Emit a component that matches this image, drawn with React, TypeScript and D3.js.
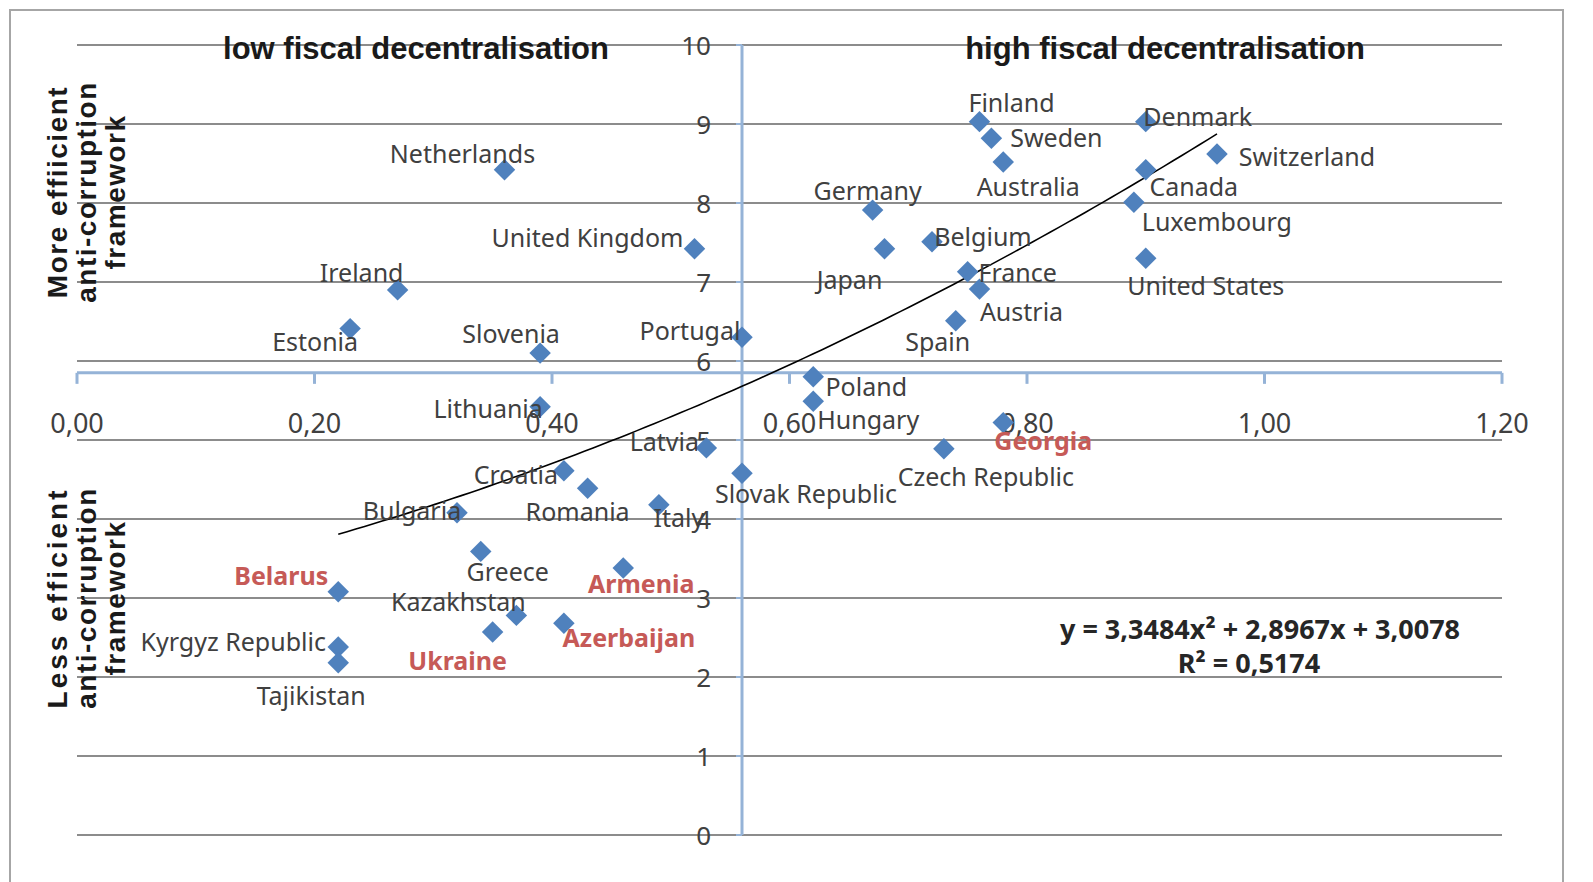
import React from "react";
import * as d3 from "d3";

// ---- data ----
const countries = [
  "Netherlands", "United Kingdom", "Ireland", "Estonia", "Slovenia", "Portugal",
  "Lithuania", "Latvia", "Croatia", "Romania", "Italy", "Slovak Republic",
  "Bulgaria", "Greece", "Armenia", "Belarus", "Kazakhstan", "Ukraine",
  "Azerbaijan", "Kyrgyz Republic", "Tajikistan", "Poland", "Hungary", "Georgia",
  "Czech Republic", "Germany", "Japan", "Belgium", "France", "Austria", "Spain",
  "Finland", "Sweden", "Australia", "Denmark", "Canada", "Switzerland",
  "Luxembourg", "United States",
];
const fiscalDecentralisation = [
  0.36, 0.52, 0.27, 0.23, 0.39, 0.56,
  0.39, 0.53, 0.41, 0.43, 0.49, 0.56,
  0.32, 0.34, 0.46, 0.22, 0.37, 0.35,
  0.41, 0.22, 0.22, 0.62, 0.62, 0.78,
  0.73, 0.67, 0.68, 0.72, 0.75, 0.76, 0.74,
  0.76, 0.77, 0.78, 0.90, 0.90, 0.96,
  0.89, 0.90,
];
const antiCorruption = [
  8.42, 7.42, 6.90, 6.41, 6.10, 6.30,
  5.42, 4.90, 4.61, 4.39, 4.18, 4.58,
  4.08, 3.59, 3.38, 3.08, 2.78, 2.57,
  2.68, 2.38, 2.18, 5.80, 5.49, 5.22,
  4.89, 7.91, 7.42, 7.51, 7.13, 6.91, 6.51,
  9.03, 8.82, 8.52, 9.03, 8.42, 8.62,
  8.01, 7.30,
];
const highlightedCountries = ["Belarus", "Armenia", "Ukraine", "Azerbaijan", "Georgia"];
const xTickValues = [0, 0.2, 0.4, 0.6, 0.8, 1.0, 1.2];
const yTickValues = [0, 1, 2, 3, 4, 5, 6, 7, 8, 9, 10];
const trendCoefficients = [3.3484, 2.8967, 3.0078]; // a x^2 + b x + c
const trendEquation = "y = 3,3484x² + 2,8967x + 3,0078";
const trendR2 = "R² = 0,5174";
const quadrantTitles = ["low fiscal decentralisation", "high fiscal decentralisation"];
const yTitleTop = ["More effiicient", "anti-corruption", "framework"];
const yTitleBottom = ["Less efficient", "anti-corruption", "framework"];

// label placement (offset of label centre from its marker, px)
const labelOffsets: Record<string, [number, number]> = {
  "Netherlands": [-42, -17], "United Kingdom": [-107, -12], "Ireland": [-36, -18],
  "Estonia": [-35, 12], "Slovenia": [-29, -20], "Portugal": [-52, -7],
  "Lithuania": [-52, 1], "Latvia": [-42, -7], "Croatia": [-48, 3],
  "Romania": [-10, 23], "Italy": [20, 12], "Slovak Republic": [64, 20],
  "Bulgaria": [-45, -3], "Greece": [27, 20], "Armenia": [18, 15],
  "Belarus": [-57, -17], "Kazakhstan": [-58, -14], "Ukraine": [-35, 28],
  "Azerbaijan": [65, 14], "Kyrgyz Republic": [-105, -6], "Tajikistan": [-27, 32],
  "Poland": [53, 9], "Hungary": [55, 18], "Georgia": [40, 17],
  "Czech Republic": [42, 27], "Germany": [-5, -20], "Japan": [-35, 30],
  "Belgium": [51, -6], "France": [50, 0], "Austria": [42, 22], "Spain": [-18, 20],
  "Finland": [32, -20], "Sweden": [65, -1], "Australia": [25, 24],
  "Denmark": [52, -6], "Canada": [48, 16], "Switzerland": [90, 2],
  "Luxembourg": [83, 19], "United States": [60, 27],
};

const xAxisCrossesAt = 5.85;
const yAxisCrossesAt = 0.56;

const fmt = (v: number) => v.toFixed(2).replace(".", ",");

export default function App() {
  const W = 1593, H = 882;
  const x = d3.scaleLinear().domain([0, 1.2]).range([77, 1502]);
  const y = d3.scaleLinear().domain([0, 10]).range([835, 45]);

  const points = countries.map((c, i) => ({ name: c, x: fiscalDecentralisation[i], y: antiCorruption[i] }));
  const [a, b, c] = trendCoefficients;
  const xMin = d3.min(fiscalDecentralisation)!, xMax = d3.max(fiscalDecentralisation)!;
  const trendPts = d3.range(0, 101).map((k) => {
    const xv = xMin + ((xMax - xMin) * k) / 100;
    return [xv, a * xv * xv + b * xv + c] as [number, number];
  });
  const line = d3.line<[number, number]>().x((d) => x(d[0])).y((d) => y(d[1]));
  const diamond = d3.symbol().type(d3.symbolSquare).size(230)()!;

  const axisY = y(xAxisCrossesAt);
  const axisX = x(yAxisCrossesAt);
  const labelFont = "'Noto Sans', 'DejaVu Sans', sans-serif";
  const titleFont = "'Liberation Sans', Arial, sans-serif";

  return (
    <svg width={W} height={H} style={{ position: "absolute", left: 0, top: 0, background: "#fff" }}>
      <rect x={10} y={10} width={1553} height={H} fill="#fff" stroke="#a6a6a6" strokeWidth={2} />

      {/* gridlines */}
      {yTickValues.map((t) => (
        <line key={"g" + t} x1={x(0)} x2={x(1.2)} y1={y(t)} y2={y(t)} stroke="#8c8c8c" strokeWidth={2} />
      ))}

      {/* x axis */}
      <line x1={x(0)} x2={x(1.2)} y1={axisY} y2={axisY} stroke="#95b3d7" strokeWidth={3} />
      {xTickValues.map((t) => (
        <g key={"xt" + t}>
          <line x1={x(t)} x2={x(t)} y1={axisY} y2={axisY + 11} stroke="#95b3d7" strokeWidth={3} />
          <text x={x(t)} y={422} textAnchor="middle" dominantBaseline="central" fontFamily={labelFont} fontSize={27} fill="#404040">
            {fmt(t)}
          </text>
        </g>
      ))}

      {/* y axis */}
      <line x1={axisX} x2={axisX} y1={y(10)} y2={y(0)} stroke="#95b3d7" strokeWidth={3} />
      {yTickValues.map((t) => (
        <g key={"yt" + t}>
          <line x1={axisX - 6} x2={axisX} y1={y(t)} y2={y(t)} stroke="#95b3d7" strokeWidth={2} />
          <text x={711} y={y(t)} textAnchor="end" dominantBaseline="central" fontFamily={labelFont} fontSize={26} fill="#404040">
            {t}
          </text>
        </g>
      ))}

      {/* quadrant titles */}
      <text x={416} y={48} textAnchor="middle" dominantBaseline="central" fontFamily={titleFont} fontWeight="bold" fontSize={31} fill="#1a1a1a">
        {quadrantTitles[0]}
      </text>
      <text x={1165} y={48} textAnchor="middle" dominantBaseline="central" fontFamily={titleFont} fontWeight="bold" fontSize={31} fill="#1a1a1a">
        {quadrantTitles[1]}
      </text>

      {/* y titles */}
      <g transform="translate(86,192) rotate(-90)">
        {yTitleTop.map((s, i) => (
          <text key={s + i} x={0} y={(i - 1) * 29} textAnchor="middle" dominantBaseline="central" fontFamily={titleFont} fontWeight="bold" fontSize={28} letterSpacing={1.5} fill="#1a1a1a">
            {s}
          </text>
        ))}
      </g>
      <g transform="translate(86,598) rotate(-90)">
        {yTitleBottom.map((s, i) => (
          <text key={s + i} x={0} y={(i - 1) * 29} textAnchor="middle" dominantBaseline="central" fontFamily={titleFont} fontWeight="bold" fontSize={28} letterSpacing={i === 0 ? 3 : 1.5} fill="#1a1a1a">
            {s}
          </text>
        ))}
      </g>

      {/* trend line */}
      <path d={line(trendPts)!} fill="none" stroke="#000" strokeWidth={1.6} />

      {/* markers */}
      {points.map((p) => (
        <path key={"m" + p.name} d={diamond} transform={`translate(${x(p.x)},${y(p.y)}) rotate(45)`} fill="#4f81bd" />
      ))}

      {/* labels */}
      {points.map((p) => {
        const [dx, dy] = labelOffsets[p.name] || [0, -20];
        const hl = highlightedCountries.includes(p.name);
        return (
          <text key={"l" + p.name} x={x(p.x) + dx} y={y(p.y) + dy} textAnchor="middle" dominantBaseline="central"
            fontFamily={labelFont} fontSize={25} fontWeight={hl ? 700 : 400} fill={hl ? "#c65a57" : "#404040"}>
            {p.name}
          </text>
        );
      })}

      {/* trend equation */}
      <text x={1260} y={628} textAnchor="middle" dominantBaseline="central" fontFamily={labelFont} fontWeight="bold" fontSize={27} fill="#262626">
        {trendEquation}
      </text>
      <text x={1249} y={662} textAnchor="middle" dominantBaseline="central" fontFamily={labelFont} fontWeight="bold" fontSize={27} fill="#262626">
        {trendR2}
      </text>
    </svg>
  );
}
